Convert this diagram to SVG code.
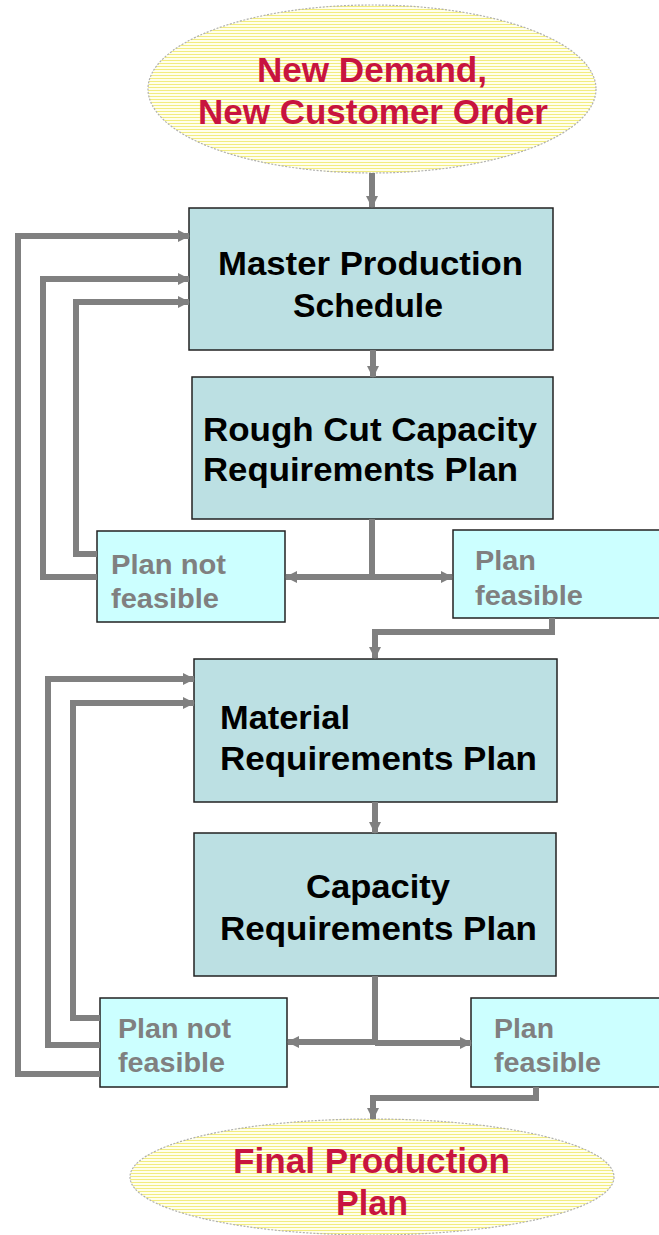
<svg xmlns="http://www.w3.org/2000/svg" width="659" height="1235" viewBox="0 0 659 1235">
<style>
.main{fill:#BCE0E3;stroke:#222;stroke-width:1.5}
.small{fill:#CCFFFF;stroke:#222;stroke-width:1.5}
.oval{fill:url(#stripes);stroke:#B0B0B0;stroke-width:1.2;stroke-dasharray:2 1.5}
.red{font-family:"Liberation Sans",Arial,sans-serif;font-weight:bold;font-size:35px;fill:#C8143F}
.blk{font-family:"Liberation Sans",Arial,sans-serif;font-weight:bold;font-size:33px;fill:#000}
.gry{font-family:"Liberation Sans",Arial,sans-serif;font-weight:bold;font-size:27px;fill:#808080}
.con path{fill:none;stroke:#808080;stroke-width:6;stroke-linejoin:miter}
.arr{marker-end:url(#ah)}
</style>
<defs>
<pattern id="stripes" patternUnits="userSpaceOnUse" width="4" height="3">
<rect width="4" height="3" fill="#FFFFEC"/>
<rect width="4" height="1" fill="#F2EC80"/>
</pattern>
<marker id="ah" markerUnits="userSpaceOnUse" markerWidth="12" markerHeight="12" refX="11" refY="6" orient="auto">
<path d="M0,0 L12,6 L0,12 z" fill="#808080"/>
</marker>
</defs>

<g id="new-demand">
<ellipse class="oval" cx="372" cy="89" rx="224" ry="84"/>
<text class="red" x="257" y="82" textLength="230" lengthAdjust="spacingAndGlyphs">New Demand,</text>
<text class="red" x="198" y="124" textLength="350" lengthAdjust="spacingAndGlyphs">New Customer Order</text>
</g>

<g id="mps">
<rect class="main" x="189" y="208" width="364" height="142"/>
<text class="blk" x="218" y="275" textLength="305" lengthAdjust="spacingAndGlyphs">Master Production</text>
<text class="blk" x="293" y="317" textLength="150" lengthAdjust="spacingAndGlyphs">Schedule</text>
</g>

<g id="rccp">
<rect class="main" x="192" y="377" width="361" height="142"/>
<text class="blk" x="203" y="441" textLength="334" lengthAdjust="spacingAndGlyphs">Rough Cut Capacity</text>
<text class="blk" x="203" y="481" textLength="315" lengthAdjust="spacingAndGlyphs">Requirements Plan</text>
</g>

<g id="not-feasible-1">
<rect class="small" x="97" y="531" width="188" height="91"/>
<text class="gry" x="111" y="574" textLength="115" lengthAdjust="spacingAndGlyphs">Plan not</text>
<text class="gry" x="111" y="608" textLength="108" lengthAdjust="spacingAndGlyphs">feasible</text>
</g>

<g id="feasible-1">
<rect class="small" x="453" y="530" width="215" height="88"/>
<text class="gry" x="475" y="570" textLength="61" lengthAdjust="spacingAndGlyphs">Plan</text>
<text class="gry" x="475" y="605" textLength="108" lengthAdjust="spacingAndGlyphs">feasible</text>
</g>

<g id="mrp">
<rect class="main" x="194" y="659" width="363" height="143"/>
<text class="blk" x="220" y="729" textLength="130" lengthAdjust="spacingAndGlyphs">Material</text>
<text class="blk" x="220" y="770" textLength="317" lengthAdjust="spacingAndGlyphs">Requirements Plan</text>
</g>

<g id="crp">
<rect class="main" x="194" y="833" width="362" height="143"/>
<text class="blk" x="306" y="898" textLength="144" lengthAdjust="spacingAndGlyphs">Capacity</text>
<text class="blk" x="220" y="940" textLength="317" lengthAdjust="spacingAndGlyphs">Requirements Plan</text>
</g>

<g id="not-feasible-2">
<rect class="small" x="100" y="998" width="187" height="89"/>
<text class="gry" x="118" y="1038" textLength="113" lengthAdjust="spacingAndGlyphs">Plan not</text>
<text class="gry" x="118" y="1072" textLength="107" lengthAdjust="spacingAndGlyphs">feasible</text>
</g>

<g id="feasible-2">
<rect class="small" x="471" y="998" width="200" height="89"/>
<text class="gry" x="494" y="1038" textLength="60" lengthAdjust="spacingAndGlyphs">Plan</text>
<text class="gry" x="494" y="1072" textLength="107" lengthAdjust="spacingAndGlyphs">feasible</text>
</g>

<g id="final-plan">
<ellipse class="oval" cx="372" cy="1177" rx="242" ry="58"/>
<text class="red" x="233" y="1173" textLength="277" lengthAdjust="spacingAndGlyphs">Final Production</text>
<text class="red" x="336" y="1215" textLength="72" lengthAdjust="spacingAndGlyphs">Plan</text>
</g>

<g id="connectors" class="con">
<path class="arr" d="M372,173 V207"/>
<path class="arr" d="M373,350 V377"/>
<path d="M372,519 V580"/>
<path class="arr" d="M372,577 H286"/>
<path class="arr" d="M372,577 H452"/>
<path class="arr" d="M552,618 V632 H375 V658"/>
<path class="arr" d="M97,554 H76 V302 H189"/>
<path class="arr" d="M97,577 H43 V279 H189"/>
<path class="arr" d="M375,802 V833"/>
<path d="M375,976 V1045"/>
<path class="arr" d="M375,1042 H288"/>
<path class="arr" d="M375,1043 H471"/>
<path class="arr" d="M536,1087 V1098 H373 V1119"/>
<path class="arr" d="M100,1018 H73 V703 H194"/>
<path class="arr" d="M100,1045 H48 V679 H194"/>
<path class="arr" d="M100,1074 H18 V236 H189"/>
</g>
</svg>
